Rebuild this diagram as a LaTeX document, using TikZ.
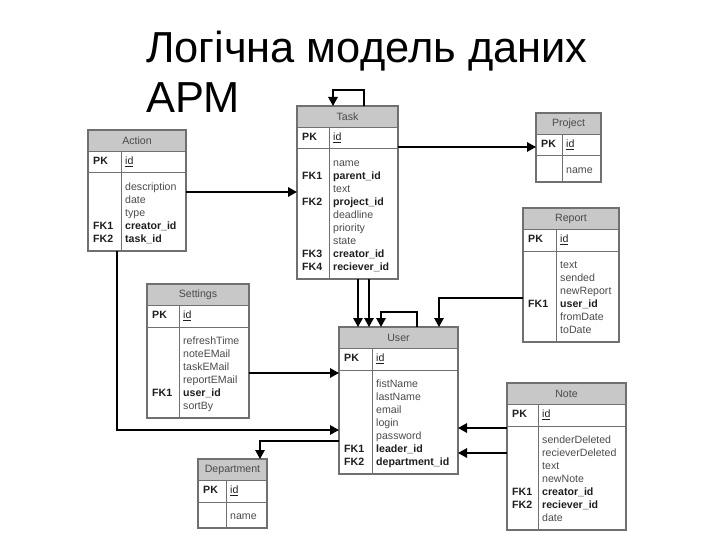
\documentclass[tikz,border=0pt]{standalone}
\usepackage{fontspec}
\setmainfont{Liberation Sans}
\usetikzlibrary{arrows.meta}
\definecolor{hdrgray}{HTML}{C8C8C8}
\definecolor{framegray}{HTML}{707070}
\definecolor{fieldgray}{HTML}{4A4A4A}
\definecolor{keyblack}{HTML}{1E1E1E}

\tikzset{
  tblframe/.style={draw=framegray, line width=1.2pt, inner sep=0pt, outer sep=0pt},
  tblline/.style={draw=framegray, line width=1pt},
  hdrtext/.style={font=\fontsize{10.6}{13}\selectfont, text=fieldgray, inner sep=0pt},
  cell/.style={anchor=west, inner sep=0pt, text height=7.8pt, text depth=2.4pt, font=\fontsize{10.6}{13}\selectfont},
  keytext/.style={cell, text=keyblack, font=\fontsize{10.6}{13}\selectfont\bfseries},
  fldtext/.style={cell, text=fieldgray},
  fktext/.style={keytext},
  idtext/.style={cell, text=keyblack},
  headline/.style={font=\fontsize{43.4}{50}\selectfont, inner sep=0pt, anchor=base west},
  rel/.style={draw=black, line width=1.4pt, -{Triangle[length=9pt,width=9.5pt]}}
}

% table: name, title, left, top, right, divider, rows, key/field list
\newcommand{\entity}[8]{%
  \fill[hdrgray] (#3,#4) rectangle (#5,#4+21.5);
  \node[tblframe, anchor=north west, minimum width=#5-#3, minimum height=56+13*#7] (#1) at (#3,#4) {};
  \draw[tblline] (#3,#4+21.5) -- (#5,#4+21.5) (#3,#4+43) -- (#5,#4+43) (#6,#4+21.5) -- (#6,#4+56+13*#7);
  \node[hdrtext] (#1-title) at ({(#3+#5)/2},#4+10.75) {#2};
  \node[keytext] (#1-pk) at (#3+5,#4+32.25) {PK};
  \node[idtext] (#1-id) at (#6+4,#4+32.25) {\underline{id}};
  \foreach \k/\f [count=\i] in {#8} {
    \node[keytext] at (#3+5,#4+45+13*\i) {\k};
    \ifx\k\empty \node[fldtext] at (#6+4,#4+45+13*\i) {\f};
    \else \node[fktext] at (#6+4,#4+45+13*\i) {\f}; \fi
  }%
}

\begin{document}
\begin{tikzpicture}[x=1pt,y=-1pt]
  \useasboundingbox (0,0) rectangle (720,540);

  % Title
  \node[headline] (title1) at (146,63) {Логічна модель даних};
  \node[headline] (title2) at (146,113) {АРМ};

  % Tables
  \entity{action}{Action}{88}{130}{186}{121}{5}{/description,/date,/type,FK1/creator\_id,FK2/task\_id}
  \entity{task}{Task}{297}{106}{398}{329}{9}{/name,FK1/parent\_id,/text,FK2/project\_id,/deadline,/priority,/state,FK3/creator\_id,FK4/reciever\_id}
  \entity{project}{Project}{536}{113}{601}{562}{1}{/name}
  \entity{report}{Report}{523}{208}{619}{556}{6}{/text,/sended,/newReport,FK1/user\_id,/fromDate,/toDate}
  \entity{settings}{Settings}{147}{284}{249}{179}{6}{/refreshTime,/noteEMail,/taskEMail,/reportEMail,FK1/user\_id,/sortBy}
  \entity{user}{User}{339}{327}{458}{372}{7}{/fistName,/lastName,/email,/login,/password,FK1/leader\_id,FK2/department\_id}
  \entity{note}{Note}{507}{383}{626}{538}{7}{/senderDeleted,/recieverDeleted,/text,/newNote,FK1/creator\_id,FK2/reciever\_id,/date}
  \entity{department}{Department}{198}{459}{267}{226}{1}{/name}

  % Task self reference
  \draw[rel] ([xshift=67pt]task.north west) -- ++(0,-16) -| ([xshift=36pt]task.north west);

  % Action -> Task, Task -> Project
  \coordinate (act-out) at ([yshift=-62pt]action.north east);
  \draw[rel] (act-out) -- (act-out -| task.west);
  \coordinate (prj-in) at ([yshift=-34pt]project.north west);
  \draw[rel] (prj-in -| task.east) -- (prj-in);

  % Task -> User
  \coordinate (tsk-out1) at ([xshift=61pt]task.south west);
  \coordinate (tsk-out2) at ([xshift=72pt]task.south west);
  \draw[rel] (tsk-out1) -- (tsk-out1 |- user.north);
  \draw[rel] (tsk-out2) -- (tsk-out2 |- user.north);

  % User self reference
  \draw[rel] ([xshift=78pt]user.north west) -- ++(0,-15) -| ([xshift=42pt]user.north west);

  % Report -> User
  \coordinate (rep-out) at ([yshift=-90pt]report.north west);
  \draw[rel] (rep-out) -| ([xshift=100pt]user.north west);

  % Settings -> User, Action -> User
  \coordinate (set-out) at ([yshift=-89pt]settings.north east);
  \draw[rel] (set-out) -- (set-out -| user.west);
  \coordinate (usr-in) at ([yshift=-103pt]user.north west);
  \draw[rel] ([xshift=29pt]action.south west) |- (usr-in);

  % User -> Department
  \coordinate (usr-out) at ([yshift=-114pt]user.north west);
  \draw[rel] (usr-out) -| ([xshift=62pt]department.north west);

  % Note -> User
  \coordinate (note-out1) at ([yshift=-45pt]note.north west);
  \coordinate (note-out2) at ([yshift=-70pt]note.north west);
  \draw[rel] (note-out1) -- (note-out1 -| user.east);
  \draw[rel] (note-out2) -- (note-out2 -| user.east);
\end{tikzpicture}
\end{document}
